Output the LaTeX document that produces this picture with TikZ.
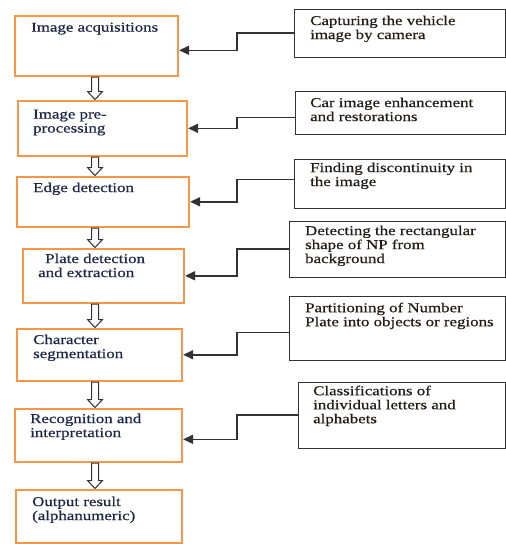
\documentclass[tikz,border=0pt]{standalone}
\usepackage{fontspec}
\setmainfont{Liberation Serif}[FakeStretch=1.25, FakeBold=0.6]
\usetikzlibrary{arrows.meta}
\usetikzlibrary{calc}

\definecolor{stageorange}{RGB}{247,150,70}
\definecolor{stageink}{RGB}{28,38,70}
\definecolor{noteink}{RGB}{35,28,22}
\definecolor{linegray}{RGB}{50,50,50}

% hollow block arrow from one stage down to the next
\newcommand{\flowarrow}[2]{%
	\draw[hollow] let \p1=(#1.south -| axis), \p2=(#2.north -| axis) in
		(\x1-3.5pt,\y1) -- (\x1+3.5pt,\y1) -- (\x1+3.5pt,\y2+8pt) -- (\x1+7.5pt,\y2+8pt)
		-- (\x1,\y2) -- (\x1-7.5pt,\y2+8pt) -- (\x1-3.5pt,\y2+8pt) -- cycle;}

\begin{document}
\begin{tikzpicture}
		[x=1pt, y=-1pt,
		stage/.style={rectangle, draw=stageorange, line width=2.6pt, anchor=north west, inner sep=0pt},
		note/.style={rectangle, draw=linegray, line width=1.3pt, anchor=north west, inner sep=0pt},
		stagetext/.style={anchor=north west, inner sep=0pt, align=left, text=stageink, font=\fontsize{13.5}{14}\selectfont},
		notetext/.style={anchor=north west, inner sep=0pt, align=left, text=noteink, font=\fontsize{13.5}{14}\selectfont},
		hollow/.style={draw=linegray, line width=1pt, fill=white, line join=miter},
		feed/.style={draw=linegray, line width=1.5pt, -{Triangle[length=10pt, width=9pt]}}]
		\useasboundingbox (0,0) rectangle (506,544);
		\coordinate (axis) at (95,0);
		\coordinate (bus) at (237,0);

		% stages
		\node[stage, minimum width=163pt, minimum height=60pt] (acq) at (13.5,14.5) {};
		\node[stage, minimum width=169pt, minimum height=55pt] (pre) at (16.5,99.5) {};
		\node[stage, minimum width=172pt, minimum height=50pt] (edge) at (15.5,175.5) {};
		\node[stage, minimum width=161pt, minimum height=54pt] (plate) at (21.5,247.5) {};
		\node[stage, minimum width=165pt, minimum height=52pt] (seg) at (15.5,327.5) {};
		\node[stage, minimum width=167pt, minimum height=53pt] (recog) at (13.5,407.5) {};
		\node[stage, minimum width=166pt, minimum height=53pt] (out) at (14.5,488.5) {};

		\node[stagetext] (acqtxt) at (31,22.5) {Image acquisitions};
		\node[stagetext] (pretxt) at (33,109.5) {Image pre-\\processing};
		\node[stagetext] (edgetxt) at (33,182.5) {Edge detection};
		\node[stagetext] (platetxt) at (38,253.5) {\hspace*{7pt}Plate detection\\and extraction};
		\node[stagetext] (segtxt) at (33,334.5) {Character\\segmentation};
		\node[stagetext] (recogtxt) at (30,413.5) {Recognition and\\interpretation};
		\node[stagetext] (outtxt) at (32,496.5) {Output result\\(alphanumeric)};

		% notes
		\node[note, minimum width=211pt, minimum height=48pt] (cap) at (293.5,8.5) {};
		\node[note, minimum width=210pt, minimum height=43pt] (enh) at (294.5,90.5) {};
		\node[note, minimum width=211pt, minimum height=49pt] (disc) at (293.5,158.5) {};
		\node[note, minimum width=216pt, minimum height=56pt] (rect) at (288.5,220.5) {};
		\node[note, minimum width=216pt, minimum height=64pt] (part) at (288.5,295.5) {};
		\node[note, minimum width=207pt, minimum height=66pt] (cls) at (297.5,381.5) {};

		\node[notetext] (captxt) at (310,15.5) {Capturing the vehicle\\image by camera};
		\node[notetext] (enhtxt) at (310,97.5) {Car image enhancement\\and restorations};
		\node[notetext] (disctxt) at (310,162.5) {Finding discontinuity in\\the image};
		\node[notetext] (recttxt) at (305,225.5) {Detecting the rectangular\\shape of NP from\\background};
		\node[notetext] (parttxt) at (305,302.5) {Partitioning of Number\\Plate into objects or regions};
		\node[notetext] (clstxt) at (313,385.5) {Classifications of\\individual letters and\\alphabets};

		% flow
		\flowarrow{acq}{pre}
		\flowarrow{pre}{edge}
		\flowarrow{edge}{plate}
		\flowarrow{plate}{seg}
		\flowarrow{seg}{recog}
		\flowarrow{recog}{out}

		% notes feeding the stages
		\draw[feed] (cap.west) -- (cap.west -| bus) |- ([yshift=-4.5pt]acq.east);
		\draw[feed] ([yshift=-5pt]enh.west) -- ([yshift=-5pt]enh.west -| bus) |- (pre.east);
		\draw[feed] ([yshift=4pt]disc.west) -- ([yshift=4pt]disc.west -| bus) |- (edge.east);
		\draw[feed] (rect.west) -- (rect.west -| bus) |- (plate.east);
		\draw[feed] ([yshift=-4.5pt]part.west) -- ([yshift=-4.5pt]part.west -| bus) |- (seg.east);
		\draw[feed] (cls.west) -- (cls.west -| bus) |- ([yshift=-4pt]recog.east);
	\end{tikzpicture}
\end{document}
